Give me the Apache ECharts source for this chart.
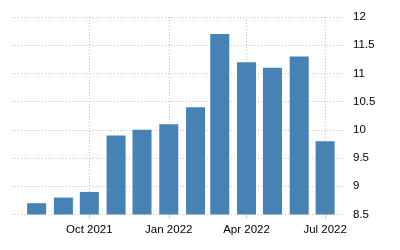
<!DOCTYPE html>
<html><head><meta charset="utf-8">
<script src="https://cdn.jsdelivr.net/npm/echarts@6/dist/echarts.min.js"></script>
<style>html,body{margin:0;padding:0;background:#fff}#c{width:400px;height:250px}</style>
</head><body><div id="c"></div>
<script>
const months = ['2021-08-01','2021-09-01','2021-10-01','2021-11-01','2021-12-01','2022-01-01','2022-02-01','2022-03-01','2022-04-01','2022-05-01','2022-06-01','2022-07-01'];
const values = [8.7, 8.8, 8.9, 9.9, 10.0, 10.1, 10.4, 11.7, 11.2, 11.1, 11.3, 9.8];
const xTickDates = ['2021-10-01','2022-01-01','2022-04-01','2022-07-01'];
const monthNames = ['Jan','Feb','Mar','Apr','May','Jun','Jul','Aug','Sep','Oct','Nov','Dec'];

function day(s){ const p = s.split('-'); return Date.UTC(+p[0], +p[1]-1, +p[2]) / 86400000; }
const chart = echarts.init(document.getElementById('c'), null, {renderer:'canvas'});
const gridLine = {show:true, lineStyle:{color:'#c8c8c8', type:[1,2], width:1}};
chart.setOption({
  animation:false,
  grid:{left:12, right:55, top:17, bottom:35.5},
  xAxis:{
    type:'value',
    min: day('2021-07-03') + 0.5,
    max: day('2022-07-24'),
    axisLine:{show:false},
    axisTick:{show:true, length:4, lineStyle:{color:'#c8c8c8'}, customValues: xTickDates.map(day)},
    axisLabel:{customValues: xTickDates.map(day), color:'#000', fontSize:11.5, fontFamily:'Liberation Sans', margin:9,
      formatter:function(v){ const d=new Date(v*86400000); return monthNames[d.getUTCMonth()]+' '+d.getUTCFullYear(); }},
    splitLine:gridLine
  },
  yAxis:{
    type:'value', position:'right', min:8.5, max:12, interval:0.5,
    axisLine:{show:false}, axisTick:{show:false},
    axisLabel:{color:'#000', fontSize:11.5, fontFamily:'Liberation Sans', margin:8},
    splitLine:gridLine
  },
  series:[{
    type:'bar', barWidth:19,
    itemStyle:{color:'#4682b4'},
    data: months.map((m,i)=>[day(m), values[i]])
  }]
});
</script></body></html>
